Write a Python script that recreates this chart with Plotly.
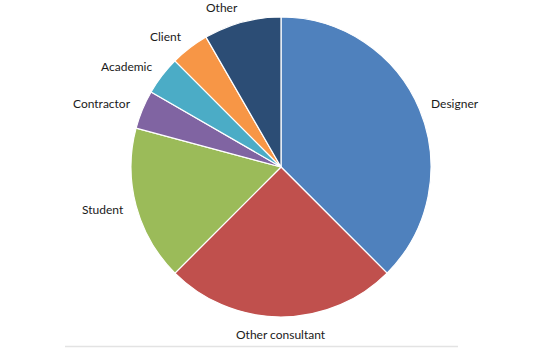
import math
import plotly.graph_objects as go

# Respondent roles (counts)
roles = ["Designer", "Other consultant", "Student", "Contractor", "Academic", "Client", "Other"]
counts = [9, 6, 4, 1, 1, 1, 2]
colors = ["#4F81BD", "#C0504D", "#9BBB59", "#8064A2", "#4BACC6", "#F79646", "#2C4D75"]

W, H = 550, 348
CX, CY, R = 281, 167, 150  # pie centre and radius in pixels
LABEL_GAP = 10

fig = go.Figure(go.Pie(
    labels=roles,
    values=counts,
    sort=False,
    direction="clockwise",
    rotation=0,
    marker=dict(colors=colors, line=dict(color="white", width=1.2)),
    textinfo="none",
    hoverinfo="label+value+percent",
    showlegend=False,
    domain=dict(x=[(CX - R) / W, (CX + R) / W],
                y=[(H - (CY + R)) / H, (H - (CY - R)) / H]),
))

# Category labels placed just outside each slice's mid-angle
total = sum(counts)
cum = 0
annotations = []
for name, v in zip(roles, counts):
    mid = (cum + v / 2) / total * 2 * math.pi
    cum += v
    s, c = math.sin(mid), math.cos(mid)
    gap = LABEL_GAP if abs(s) > 0.1 else 8
    px = CX + (R + gap) * s
    py = CY - (R + gap) * c
    if s > 0.1:
        xa, ya = "left", "middle"
    elif s < -0.1:
        xa, ya = "right", "middle"
    else:
        xa, ya = "center", ("top" if c < 0 else "bottom")
    if ya == "middle":
        py -= 5 * c
    annotations.append(dict(
        x=px / W, y=1 - py / H, xref="paper", yref="paper",
        text=name, showarrow=False, xanchor=xa, yanchor=ya,
        font=dict(size=12, color="#1a1a1a", family="Lato, Open Sans, sans-serif"),
    ))

fig.update_layout(
    width=W, height=H,
    margin=dict(l=0, r=0, t=0, b=0),
    paper_bgcolor="white",
    plot_bgcolor="white",
    annotations=annotations,
    shapes=[dict(type="line", xref="paper", yref="paper",
                 x0=65 / W, x1=458 / W, y0=1.5 / H, y1=1.5 / H,
                 line=dict(color="#e3e3e3", width=1.5))],
)

fig.write_html("out.html")
